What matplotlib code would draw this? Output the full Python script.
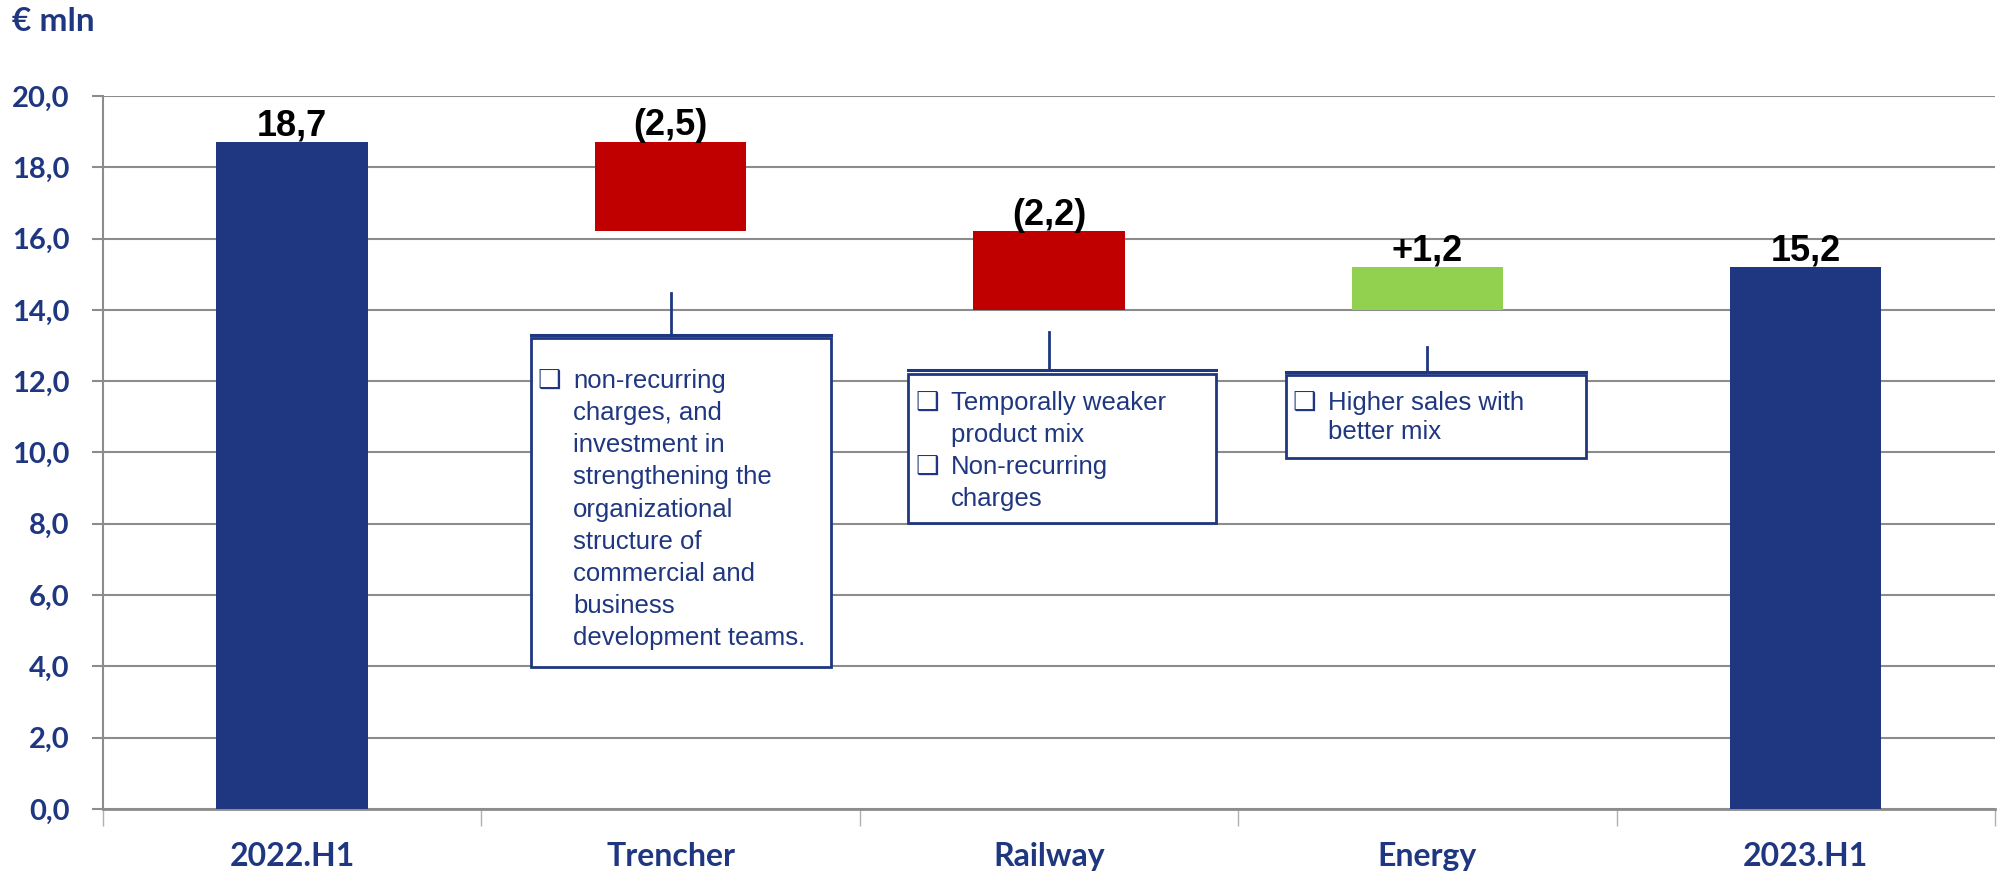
import matplotlib.pyplot as plt
from matplotlib.patches import Rectangle

# data
categories = ['2022.H1', 'Trencher', 'Railway', 'Energy', '2023.H1']
starts = [0.0, 18.7, 16.2, 14.0, 0.0]
ends = [18.7, 16.2, 14.0, 15.2, 15.2]
labels = ['18,7', '(2,5)', '(2,2)', '+1,2', '15,2']
bar_colors = ['#1F3780', '#C00000', '#C00000', '#92D050', '#1F3780']
yticks = [0, 2, 4, 6, 8, 10, 12, 14, 16, 18, 20]

notes = {
    1: [['non-recurring', 'charges, and', 'investment in', 'strengthening the',
         'organizational', 'structure of', 'commercial and', 'business',
         'development teams.']],
    2: [['Temporally weaker', 'product mix'], ['Non-recurring', 'charges']],
    3: [['Higher sales with', 'better mix']],
}

navy = '#1F3780'
grid_gray = '#8C8C8C'


def box_note(ax, xc, y_top, y_line, x0, x1, y_bot, text_y, groups, line_h):
    """Draw a connector line plus framed text box under a bar"""
    ax.plot([xc, xc], [y_top, y_line], color=navy, lw=2, zorder=4)
    ax.plot([x0, x1], [y_line, y_line], color=navy, lw=2.2, zorder=4)
    box_top = y_line - 0.1
    ax.add_patch(Rectangle((x0, y_bot), x1 - x0, box_top - y_bot, facecolor='white',
                           edgecolor=navy, lw=2, zorder=4))
    y = text_y
    for lines in groups:
        ax.text(x0 + 0.018, y, '\u2751', fontsize=19, color=navy, va='center',
                family='DejaVu Sans', fontweight='bold', zorder=5)
        for ln in lines:
            ax.text(x0 + 0.112, y, ln, fontsize=18.5, color=navy, va='center',
                    family='Liberation Sans', zorder=5)
            y -= line_h


fig = plt.figure(figsize=(19.99, 8.76), dpi=100)
ax = fig.add_axes([0.0515, 0.0765, 0.9465, 0.8139])

x = list(range(len(categories)))
heights = [e - s for s, e in zip(starts, ends)]
ax.bar(x, heights, bottom=starts, width=0.4, color=bar_colors, zorder=3)

for i in x:
    top = max(starts[i], ends[i])
    ax.annotate(labels[i], (i, top), xytext=(0, 5), textcoords='offset points',
                ha='center', va='baseline', fontsize=26, fontweight='bold',
                family='Liberation Sans', color='black', zorder=5)

ax.set_xlim(-0.5, 4.5)
ax.set_ylim(0, 20)
ax.set_yticks(yticks)
ax.set_yticklabels([('%.1f' % v).replace('.', ',') for v in yticks], fontsize=21,
                   fontweight='bold', color=navy, family='Lato')
ax.yaxis.grid(True, color=grid_gray, lw=1.5, zorder=0)
ax.tick_params(axis='y', length=8, width=1.5, color=grid_gray, pad=16)

ax.set_xticks(x)
ax.set_xticklabels(categories, fontsize=23, fontweight='bold', color=navy, family='Lato')
ax.tick_params(axis='x', length=0, pad=24)
ax.set_xticks([i - 0.5 for i in range(6)], minor=True)
ax.tick_params(axis='x', which='minor', length=12, width=1, color='#B0B0B0')

for side in ['top', 'right']:
    ax.spines[side].set_visible(False)
ax.spines['left'].set_color(grid_gray)
ax.spines['left'].set_linewidth(1.5)
ax.spines['bottom'].set_color(grid_gray)
ax.spines['bottom'].set_linewidth(2)

fig.text(0.006, 0.975, '\u20ac mln', fontsize=24, fontweight='bold', color=navy,
         family='Lato', va='center')

box_note(ax, 1.0, 14.47, 13.30, 0.63, 1.424, 3.98, 12.0, notes[1], 0.90)
box_note(ax, 2.0, 13.38, 12.31, 1.628, 2.441, 8.02, 11.4, notes[2], 0.90)
box_note(ax, 3.0, 12.96, 12.26, 2.626, 3.420, 9.85, 11.4, notes[3], 0.83)

plt.savefig('out.png', dpi=100)
